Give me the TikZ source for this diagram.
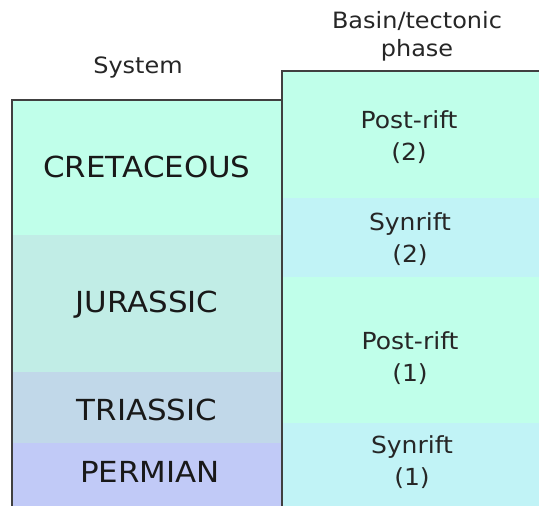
\documentclass[tikz,border=0pt]{standalone}
\usepackage{fontspec}
\setmainfont{DejaVu Sans}[FakeStretch=1.065]
\definecolor{mint}{RGB}{192,255,234}
\definecolor{jura}{RGB}{193,237,230}
\definecolor{trias}{RGB}{193,216,233}
\definecolor{perm}{RGB}{193,202,247}
\definecolor{syn}{RGB}{193,243,246}
\definecolor{edge}{RGB}{64,64,64}
\begin{document}
\begin{tikzpicture}[x=1pt,y=-1pt,
  band/.style={rectangle, draw=none, inner sep=0pt, outer sep=0pt, anchor=north west},
  era/.style={font=\fontsize{29}{34}\selectfont, text=black!90},
  phase/.style={font=\fontsize{23.5}{32}\selectfont, align=center, text=black!85},
  head/.style={font=\fontsize{22.5}{28}\selectfont, align=center, text=black!85},
  frame/.style={draw=edge, line width=1.3pt}]
\useasboundingbox (0,0) rectangle (539,506);
\clip (0,0) rectangle (539,506);
% system column
\node[band, fill=mint,  minimum width=270pt, minimum height=135pt] (cret) at (12,100) {};
\node[band, fill=jura,  minimum width=270pt, minimum height=137pt] (jur)  at (12,235) {};
\node[band, fill=trias, minimum width=270pt, minimum height=71pt]  (tri)  at (12,372) {};
\node[band, fill=perm,  minimum width=270pt, minimum height=70pt]  (perm) at (12,443) {};
% basin phase column
\node[band, fill=mint, minimum width=262pt, minimum height=127pt] (post2) at (282,71) {};
\node[band, fill=syn,  minimum width=262pt, minimum height=79pt]  (syn2)  at (282,198) {};
\node[band, fill=mint, minimum width=262pt, minimum height=146pt] (post1) at (282,277) {};
\node[band, fill=syn,  minimum width=262pt, minimum height=90pt]  (syn1)  at (282,423) {};
% outlines
\draw[frame] (12,515) -- (12,100) -- (282,100);
\draw[frame] (282,515) -- (282,71) -- (545,71);
% headings
\node[head] (hsys) at (138,67) {System};
\node[head] (hbas) at (417,36) {Basin/tectonic\\phase};
% system labels
\node[era] (tcret) at (147,167) {CRETACEOUS};
\node[era] (tjur)  at (147,305) {JURASSIC};
\node[era] (ttri)  at (147,410) {TRIASSIC};
\node[era] (tperm) at (150,472) {PERMIAN};
% phase labels
\node[phase] (tpost2) at (409,137.5) {Post-rift\\(2)};
\node[phase] (tsyn2)  at (410,239) {Synrift\\(2)};
\node[phase] (tpost1) at (410,358.5) {Post-rift\\(1)};
\node[phase] (tsyn1)  at (412,462.5) {Synrift\\(1)};
\end{tikzpicture}
\end{document}
